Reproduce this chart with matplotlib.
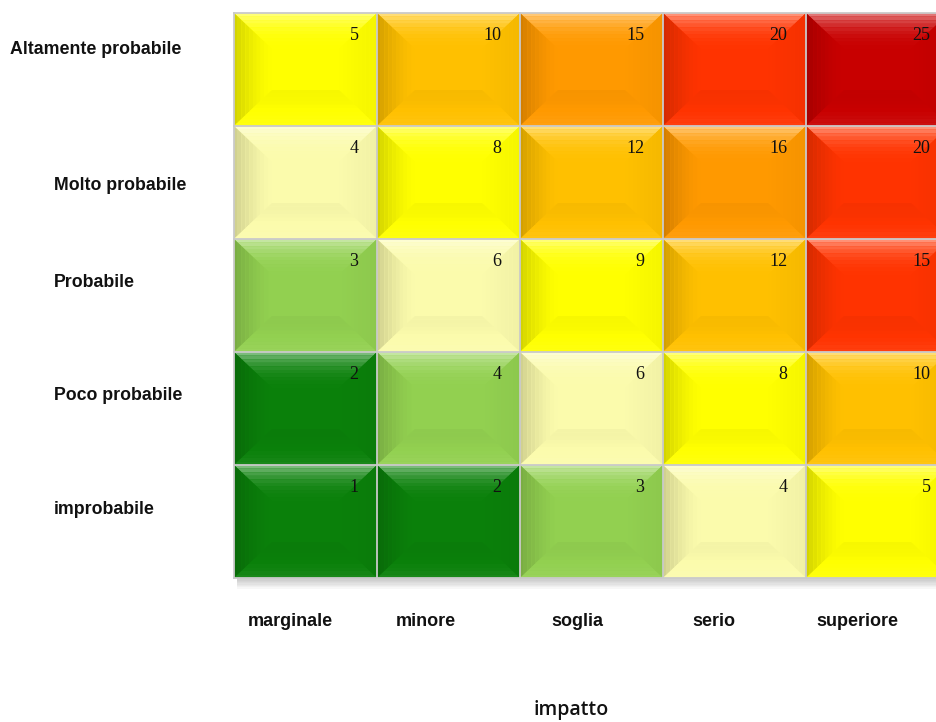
import numpy as np
import matplotlib.pyplot as plt
from matplotlib.patches import Polygon, Rectangle
from matplotlib.colors import to_rgb

# probability levels, top row first
prob_labels = ['Altamente probabile', 'Molto probabile', 'Probabile', 'Poco probabile', 'improbabile']
impact_labels = ['marginale', 'minore', 'soglia', 'serio', 'superiore']

scores = [
    [5, 10, 15, 20, 25],
    [4, 8, 12, 16, 20],
    [3, 6, 9, 12, 15],
    [2, 4, 6, 8, 10],
    [1, 2, 3, 4, 5],
]

# risk class of each cell (index into palette)
risk_class = [
    [3, 4, 5, 6, 7],
    [2, 3, 4, 5, 6],
    [1, 2, 3, 4, 6],
    [0, 1, 2, 3, 4],
    [0, 0, 1, 2, 3],
]

palette = ['#0A800A', '#92D050', '#FBFBAC', '#FFFF00', '#FFC000', '#FF9900', '#FF3300', '#C80000']


def shade(color, f):
    c = np.array(to_rgb(color))
    if f >= 0:
        return tuple(c + (1 - c) * f)
    return tuple(c * (1 + f))


fig = plt.figure(figsize=(9.36, 7.22), dpi=100)

# grid area in pixels: x 234 -> 949 (cut at 936), y 13 -> 578
W, H = 936, 722
ax = fig.add_axes([234 / W, (H - 578) / H, 715 / W, 565 / H])
ax.set_xlim(0, 5)
ax.set_ylim(0, 5)
ax.axis('off')

# soft shadow under the grid
for k in range(8):
    ax.add_patch(Rectangle((0.02, -0.012 * (k + 1)), 5, 0.012 * (k + 1) + 0.1,
                           facecolor='#808080', alpha=0.06, edgecolor='none',
                           clip_on=False, zorder=0))

bx, by = 38 / 143, 36 / 113
nstep = 10
for r in range(5):
    for c in range(5):
        x0, y1 = c, 5 - r
        x1, y0 = c + 1, 4 - r
        base = palette[risk_class[r][c]]
        ax.add_patch(Rectangle((x0, y0), 1, 1, facecolor=base, edgecolor='none', zorder=1))
        for i in range(nstep):
            t0, t1 = i / nstep, (i + 1) / nstep
            tm = (t0 + t1) / 2
            # top band (bright at the edge)
            ft = 0.45 * (1 - tm) ** 3 + 0.08 * (1 - tm)
            ax.add_patch(Polygon([(x0 + bx * t0, y1 - by * t0), (x1 - bx * t0, y1 - by * t0),
                                  (x1 - bx * t1, y1 - by * t1), (x0 + bx * t1, y1 - by * t1)],
                                 closed=True, facecolor=shade(base, ft), edgecolor='none', zorder=2))
            # left band (dark at the edge)
            fl = -0.18 * (1 - tm) ** 1.5
            ax.add_patch(Polygon([(x0 + bx * t0, y1 - by * t0), (x0 + bx * t1, y1 - by * t1),
                                  (x0 + bx * t1, y0 + by * t1), (x0 + bx * t0, y0 + by * t0)],
                                 closed=True, facecolor=shade(base, fl), edgecolor='none', zorder=2))
            # right band
            fr = -0.04 * (1 - tm)
            ax.add_patch(Polygon([(x1 - bx * t0, y1 - by * t0), (x1 - bx * t1, y1 - by * t1),
                                  (x1 - bx * t1, y0 + by * t1), (x1 - bx * t0, y0 + by * t0)],
                                 closed=True, facecolor=shade(base, fr), edgecolor='none', zorder=2))
            # bottom band
            fb = 0.10 * (1 - tm) ** 2 - 0.03
            ax.add_patch(Polygon([(x0 + bx * t0, y0 + by * t0), (x1 - bx * t0, y0 + by * t0),
                                  (x1 - bx * t1, y0 + by * t1), (x0 + bx * t1, y0 + by * t1)],
                                 closed=True, facecolor=shade(base, fb), edgecolor='none', zorder=2))
        ax.text(x1 - 0.13, y1 - 0.12, str(scores[r][c]), ha='right', va='top',
                fontsize=13, family='Liberation Serif', color='#111111', zorder=4)

# thin gray separators
for k in range(6):
    ax.plot([k, k], [0, 5], color='#CACACA', lw=1.3, zorder=3, clip_on=False)
    ax.plot([0, 5], [k, k], color='#CACACA', lw=1.3, zorder=3, clip_on=False)

# row labels
row_pos = [(10, 50), (54, 185), (54, 282), (54, 395), (54, 509)]
for lab, (px, py) in zip(prob_labels, row_pos):
    fig.text(px / W, 1 - py / H, lab, ha='left', va='center', fontsize=12.8,
             fontweight='bold', family='Liberation Sans', color='#111111')

# column labels
col_pos = [248, 396, 551, 692, 816]
for lab, px in zip(impact_labels, col_pos):
    fig.text(px / W, 1 - 626 / H, lab, ha='left', va='baseline', fontsize=13,
             fontweight='bold', family='Liberation Sans', color='#111111')

fig.text(571 / W, 1 - 715 / H, 'impatto', ha='center', va='baseline', fontsize=14,
         fontweight='semibold', family='Open Sans', color='#111111')

fig.savefig('out.png', dpi=100, facecolor='white')
